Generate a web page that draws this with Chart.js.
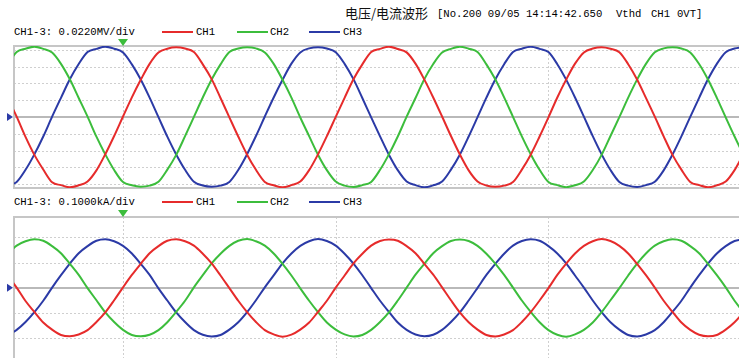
<!DOCTYPE html>
<html><head><meta charset="utf-8">
<script src="https://cdn.jsdelivr.net/npm/chart.js@4"></script>
<style>
html,body{margin:0;padding:0;background:#fff;width:739px;height:358px;overflow:hidden;position:relative}
.t{position:absolute;font-family:"Liberation Mono","DejaVu Sans Mono",monospace;font-size:10.6px;color:#000;white-space:pre;line-height:12px}
.cjk{position:absolute;font-family:"Noto Sans CJK SC",sans-serif;font-size:13px;color:#111;white-space:pre;line-height:14px}
.sw{position:absolute;height:2px;width:31px}
canvas{position:absolute;left:0}
</style></head>
<body>
<div class="cjk" style="left:345px;top:6px">电压/电流波形</div>
<div class="t" style="left:437px;top:8px">[No.200 09/05 14:14:42.650</div>
<div class="t" style="left:616px;top:8px">Vthd</div>
<div class="t" style="left:651px;top:8px">CH1</div>
<div class="t" style="left:677px;top:8px">0VT]</div>

<div class="t" id="lab1" style="left:14px;top:26px"></div>
<div class="sw" style="left:162px;top:31px;background:#e62b2b"></div><div class="t" style="left:196px;top:26px">CH1</div>
<div class="sw" style="left:237px;top:31px;background:#3cbd3c"></div><div class="t" style="left:270px;top:26px">CH2</div>
<div class="sw" style="left:309px;top:31px;background:#2b3aa6"></div><div class="t" style="left:343px;top:26px">CH3</div>

<div class="t" id="lab2" style="left:14px;top:196px"></div>
<div class="sw" style="left:162px;top:201px;background:#e62b2b"></div><div class="t" style="left:196px;top:196px">CH1</div>
<div class="sw" style="left:237px;top:201px;background:#3cbd3c"></div><div class="t" style="left:270px;top:196px">CH2</div>
<div class="sw" style="left:309px;top:201px;background:#2b3aa6"></div><div class="t" style="left:343px;top:196px">CH3</div>

<canvas id="c1" width="739" height="154" style="top:36px;width:739px;height:154px"></canvas>
<canvas id="c2" width="739" height="153" style="top:207px;width:739px;height:153px"></canvas>
<script>
// ---- data (phase angle in degrees, values in divisions) ----
const seriesNames = ['CH1', 'CH2', 'CH3'];
const voltScaleLabel = 'CH1-3: 0.0220MV/div';
const currScaleLabel = 'CH1-3: 0.1000kA/div';

const angleDeg = [-195,-180,-165,-150,-135,-120,-105,-90,-75,-60,-45,-30,-15,0,15,30,45,60,75,90,105,120,135,150,165,180,195,210,225,240,255,270,285,300,315,330,345,360,375,390,405,420,435,450,465,480,495,510,525,540,555,570,585,600,615,630,645,660,675,690,705,720,735,750,765,780,795,810,825,840,855,870,885,900,915,930,945,960,975,990,1005,1020,1035,1050];

const voltCH1 = [1.12,0.02,-1.18,-2.25,-3.12,-3.88,-4.05,-4.18,-4.06,-3.83,-3.17,-2.21,-1.13,
 0.03,1.17,2.21,3.16,3.83,4.06,4.14,4.07,3.86,3.13,2.25,1.13,-0.02,-1.16,-2.24,-3.14,-3.86,-4.06,-4.18,-4.05,-3.84,-3.16,-2.22,-1.14,
 0.01,1.14,2.24,3.13,3.87,4.05,4.18,4.04,3.84,3.17,2.22,1.16,0.03,-1.13,-2.22,-3.17,-3.83,-4.07,-4.15,-4.08,-3.87,-3.13,-2.24,-1.16,
 -0.02,1.16,2.22,3.17,3.84,4.07,4.15,4.06,3.85,3.14,2.23,1.14,0.02,-1.15,-2.25,-3.13,-3.86,-4.05,-4.18,-4.06,-3.84,-3.16,-2.21];
const voltCH2 = [3.14,3.86,4.06,4.18,4.05,3.83,3.16,2.24,1.13,0.02,-1.17,-2.22,-3.15,-3.87,-4.06,-4.14,-4.08,-3.85,-3.13,-2.25,-1.14,
 0.01,1.16,2.23,3.13,3.86,4.07,4.15,4.08,3.84,3.16,2.21,1.15,-0.03,-1.14,-2.24,-3.16,-3.84,-4.08,-4.16,-4.05,-3.86,-3.14,-2.22,-1.16,
 0.02,1.13,2.25,3.15,3.83,4.05,4.18,4.06,3.87,3.13,2.24,1.17,0.01,-1.15,-2.21,-3.14,-3.87,-4.05,-4.17,-4.06,-3.83,-3.15,-2.25,-1.13,
 -0.01,1.15,2.22,3.16,3.85,4.08,4.14,4.07,3.84,3.15,2.23,1.14,-0.02,-1.16,-2.24];
const voltCH3 = [-4.06,-3.86,-3.14,-2.22,-1.16,
 0.02,1.14,2.24,3.15,3.86,4.05,4.18,4.06,3.84,3.13,2.23,1.15,-0.01,-1.17,-2.23,-3.14,-3.85,-4.07,-4.14,-4.08,-3.86,-3.15,-2.21,-1.13,
 0.03,1.16,2.21,3.17,3.84,4.08,4.15,4.07,3.85,3.16,2.25,1.13,-0.02,-1.15,-2.24,-3.16,-3.83,-4.05,-4.18,-4.06,-3.84,-3.13,-2.24,-1.16,
 -0.01,1.15,2.23,3.14,3.87,4.06,4.17,4.05,3.86,3.14,2.22,1.16,0.02,-1.14,-2.22,-3.15,-3.86,-4.08,-4.16,-4.05,-3.85,-3.17,-2.23,-1.15,
 0.01,1.14,2.24,3.16,3.85,4.07,4.15];

const currCH1 = [0.48,0.01,-0.52,-0.95,-1.37,-1.65,-1.86,-1.91,-1.84,-1.67,-1.35,-0.97,-0.49,
 0.02,0.51,0.95,1.37,1.65,1.86,1.92,1.84,1.67,1.35,0.97,0.49,-0.01,-0.51,-0.96,-1.35,-1.67,-1.84,-1.93,-1.85,-1.65,-1.37,-0.95,-0.51,
 0.01,0.49,0.97,1.35,1.67,1.85,1.91,1.86,1.65,1.37,0.95,0.52,0.02,-0.49,-0.97,-1.36,-1.65,-1.86,-1.92,-1.84,-1.67,-1.35,-0.96,-0.50,
 -0.01,0.51,0.96,1.36,1.66,1.84,1.93,1.85,1.66,1.36,0.95,0.50,0.01,-0.51,-0.95,-1.37,-1.66,-1.85,-1.91,-1.86,-1.65,-1.36,-0.97];
const currCH2 = [1.35,1.67,1.84,1.92,1.86,1.65,1.37,0.95,0.51,-0.01,-0.49,-0.97,-1.35,-1.66,-1.86,-1.91,-1.85,-1.67,-1.36,-0.95,-0.51,
 0.02,0.50,0.97,1.35,1.66,1.86,1.93,1.84,1.67,1.36,0.95,0.49,-0.02,-0.51,-0.96,-1.37,-1.65,-1.84,-1.92,-1.86,-1.66,-1.35,-0.97,-0.50,
 0.01,0.52,0.95,1.37,1.65,1.85,1.91,1.85,1.66,1.35,0.96,0.51,0.01,-0.50,-0.95,-1.36,-1.67,-1.85,-1.93,-1.84,-1.66,-1.37,-0.96,-0.49,
 -0.01,0.49,0.96,1.36,1.67,1.84,1.92,1.86,1.65,1.37,0.95,0.50,0.02,-0.51,-0.96];
const currCH3 = [-1.85,-1.66,-1.35,-0.96,-0.51,
 0.01,0.50,0.96,1.37,1.65,1.86,1.92,1.84,1.66,1.36,0.95,0.51,-0.02,-0.50,-0.97,-1.35,-1.67,-1.85,-1.92,-1.86,-1.65,-1.36,-0.96,-0.49,
 0.02,0.49,0.97,1.36,1.66,1.84,1.93,1.85,1.67,1.35,0.96,0.50,-0.01,-0.51,-0.95,-1.37,-1.66,-1.84,-1.91,-1.85,-1.66,-1.35,-0.97,-0.50,
 0.00,0.51,0.95,1.35,1.67,1.85,1.92,1.86,1.65,1.36,0.97,0.49,0.01,-0.50,-0.96,-1.36,-1.65,-1.86,-1.92,-1.84,-1.67,-1.36,-0.95,-0.51,
 0.01,0.50,0.96,1.36,1.65,1.85,1.92];

const gridDeg = [0, 360, 720];
const voltGridDiv = [-4,-3,-2,-1,1,2,3,4];
const currGridDiv = [-2,-1,1,2];

// ---- styling ----
const COLORS = ['#e62b2b', '#3cbd3c', '#2b3aa6'];
document.getElementById('lab1').textContent = voltScaleLabel;
document.getElementById('lab2').textContent = currScaleLabel;

const scopePlugin = {
  id: 'scope',
  beforeDatasetsDraw(chart) {
    const {ctx, chartArea: a, scales: {x, y}} = chart;
    const hg = chart.options.plugins.scope.hGrid;
    ctx.save();
    ctx.lineWidth = 1;
    ctx.strokeStyle = '#cfcfcf';
    ctx.setLineDash([2, 2]);
    hg.forEach(v => {
      const py = Math.round(y.getPixelForValue(v)) + 0.5;
      ctx.beginPath(); ctx.moveTo(a.left, py); ctx.lineTo(a.right, py); ctx.stroke();
    });
    gridDeg.forEach(v => {
      const px = Math.round(x.getPixelForValue(v)) + 0.5;
      ctx.beginPath(); ctx.moveTo(px, a.top); ctx.lineTo(px, a.bottom); ctx.stroke();
    });
    ctx.setLineDash([]);
    ctx.strokeStyle = '#b9b9b9';
    ctx.lineWidth = 2;
    const zy = Math.round(y.getPixelForValue(0));
    ctx.beginPath(); ctx.moveTo(a.left, zy); ctx.lineTo(a.right, zy); ctx.stroke();
    ctx.strokeStyle = '#c6c6c6';
    ctx.beginPath();
    ctx.moveTo(a.right, a.top); ctx.lineTo(a.left, a.top); ctx.lineTo(a.left, a.bottom); ctx.lineTo(a.right, a.bottom);
    ctx.stroke();
    ctx.restore();
  },
  afterDatasetsDraw(chart) {
    const {ctx, chartArea: a, scales: {x, y}} = chart;
    ctx.save();
    const tx = x.getPixelForValue(0);
    ctx.fillStyle = '#3cbd3c';
    ctx.beginPath(); ctx.moveTo(tx - 5, a.top - 7); ctx.lineTo(tx + 5, a.top - 7); ctx.lineTo(tx, a.top); ctx.closePath(); ctx.fill();
    const ty = y.getPixelForValue(0);
    ctx.fillStyle = '#2b3aa6';
    ctx.beginPath(); ctx.moveTo(a.left - 7, ty - 4); ctx.lineTo(a.left - 7, ty + 4); ctx.lineTo(a.left - 1, ty); ctx.closePath(); ctx.fill();
    ctx.restore();
  }
};

function makeChart(id, series, yMin, yMax, hGrid, padBottom) {
  return new Chart(document.getElementById(id), {
    type: 'line',
    data: {
      datasets: series.map((s, i) => ({
        label: seriesNames[i],
        data: angleDeg.map((a, j) => ({x: a, y: s[j]})),
        borderColor: COLORS[i],
        backgroundColor: COLORS[i],
        borderWidth: 2,
        pointRadius: 0,
        fill: false,
        cubicInterpolationMode: 'monotone'
      }))
    },
    options: {
      responsive: false,
      animation: false,
      events: [],
      layout: {padding: {left: 14, top: 10, right: 0, bottom: padBottom}},
      plugins: {legend: {display: false}, tooltip: {enabled: false}, scope: {hGrid}},
      scales: {
        x: {type: 'linear', display: false, min: -184.5, max: 1042.5},
        y: {type: 'linear', display: false, min: yMin, max: yMax}
      }
    },
    plugins: [scopePlugin]
  });
}

makeChart('c1', [voltCH1, voltCH2, voltCH3], -4.22, 4.22, voltGridDiv, 2);
makeChart('c2', [currCH1, currCH2, currCH3], -2.85, 2.8, currGridDiv, 0);
</script>
</body></html>
